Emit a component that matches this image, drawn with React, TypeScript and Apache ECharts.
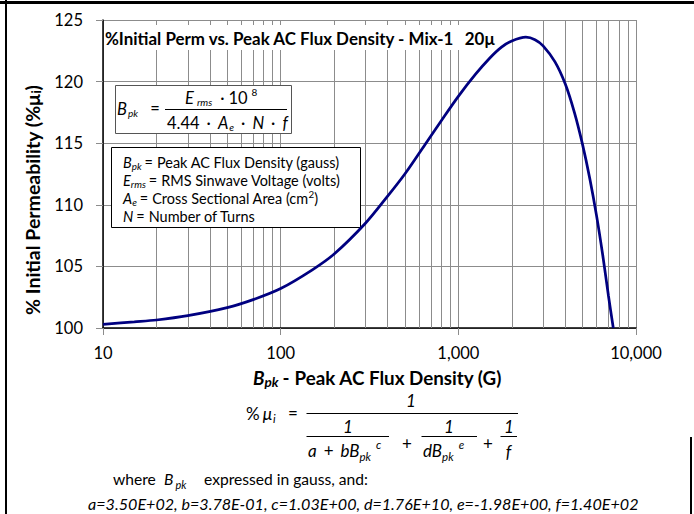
import React, { useEffect, useRef } from 'react';
import * as echarts from 'echarts';

// ---- data ----
const FLUX_G = [10, 15, 20, 30, 50, 70, 100, 150, 200, 300, 400, 500, 650, 800, 1000, 1250, 1500, 1750, 2000, 2400, 2700, 3000, 3500, 4000, 4500, 5000, 5500, 6000, 6500, 7000, 7450];
const PERM_PCT = [100.3, 100.5, 100.65, 101.0, 101.65, 102.3, 103.2, 104.7, 106.0, 108.5, 110.7, 112.5, 114.9, 116.8, 118.8, 120.6, 121.9, 122.8, 123.3, 123.6, 123.4, 122.9, 121.6, 119.8, 117.5, 114.9, 112.1, 109.1, 105.9, 102.6, 100.0];
const X_MIN = 10;
const X_MAX = 10000;
const Y_MIN = 100;
const Y_MAX = 125;
const Y_STEP = 5;
const MINOR_X = [20, 30, 40, 50, 60, 70, 80, 90, 200, 300, 400, 500, 600, 700, 800, 900, 2000, 3000, 4000, 5000, 6000, 7000, 8000, 9000];
const TITLE_MAIN = '%Initial Perm vs. Peak AC Flux Density - Mix-1';
const TITLE_TAIL = '20μ';
const DEFS = [
  { sym: 'B', sub: 'pk', text: 'Peak AC Flux Density (gauss)' },
  { sym: 'E', sub: 'rms', text: 'RMS Sinwave Voltage (volts)' },
  { sym: 'A', sub: 'e', text: 'Cross Sectional Area (cm', sup: '2', tail: ')' },
  { sym: 'N', sub: '', text: 'Number of Turns' },
];
const COEFFS = 'a=3.50E+02, b=3.78E-01, c=1.03E+00, d=1.76E+10, e=-1.98E+00, f=1.40E+02';

const FAM = 'Lato, "Liberation Sans", sans-serif';
let mctx: CanvasRenderingContext2D | null = null;
function fontStr(size: number, weight = 'normal', style = 'normal') {
  return `${style} ${weight} ${size.toFixed(2)}px ${FAM}`;
}
function measure(text: string, font: string) {
  if (!mctx) mctx = document.createElement('canvas').getContext('2d');
  mctx!.font = font;
  return mctx!.measureText(text).width;
}
function fit(text: string, target: number, weight = 'normal', style = 'normal') {
  const base = 20;
  return (base * target) / measure(text, fontStr(base, weight, style));
}

type Piece = { t: string; size: number; weight?: string; style?: string; dy?: number; dx?: number };
function run(pieces: Piece[], x: number, y: number, align: 'left' | 'center' | 'right' = 'left', z = 6) {
  const widths = pieces.map((p) => measure(p.t, fontStr(p.size, p.weight, p.style)));
  const total = widths.reduce((a, b) => a + b, 0) + pieces.reduce((a, p) => a + (p.dx || 0), 0);
  let cx = align === 'left' ? x : align === 'center' ? x - total / 2 : x - total;
  return pieces.map((p, i) => {
    cx += p.dx || 0;
    const el = {
      type: 'text',
      x: cx,
      y: y + (p.dy || 0),
      z,
      style: {
        text: p.t,
        font: fontStr(p.size, p.weight, p.style),
        fill: '#000',
        align: 'left',
        verticalAlign: 'middle',
        textAlign: 'left',
        textVerticalAlign: 'middle',
      },
    };
    cx += widths[i];
    return el;
  });
}
function hline(x1: number, x2: number, y: number, w = 1, color = '#000', z = 6) {
  return { type: 'line', z, shape: { x1, y1: y, x2, y2: y }, style: { stroke: color, lineWidth: w } };
}

function buildGraphic() {
  const g: any[] = [];
  // outer frame
  g.push(hline(0, 694, 2.5, 3, '#000', 20));
  g.push({ type: 'line', z: 20, shape: { x1: 6, y1: 0, x2: 6, y2: 514 }, style: { stroke: '#000', lineWidth: 2 } });
  g.push({ type: 'line', z: 20, shape: { x1: 691, y1: 437, x2: 691, y2: 514 }, style: { stroke: '#000', lineWidth: 2 } });

  // title with white background
  g.push({ type: 'rect', z: 5, shape: { x: 104, y: 25, width: 392, height: 25 }, style: { fill: '#fff' } });
  const ts = fit(TITLE_MAIN, 350, 'bold');
  g.push(...run([
    { t: TITLE_MAIN, size: ts, weight: 'bold' },
    { t: TITLE_TAIL, size: ts, weight: 'bold', dx: 10 },
  ], 105, 38));

  // Bpk formula box
  g.push({ type: 'rect', z: 5, shape: { x: 115.5, y: 85.5, width: 176, height: 48 }, style: { fill: '#fff', stroke: '#555', lineWidth: 1 } });
  const F = 16.5;
  const s = 10;
  g.push(...run([
    { t: 'B', size: F, style: 'italic' },
    { t: 'pk', size: s, style: 'italic', dy: 4, dx: 1 },
  ], 117, 109));
  g.push(...run([{ t: '=', size: F }], 155, 108, 'center'));
  g.push(...run([
    { t: 'E', size: F, style: 'italic' },
    { t: 'rms', size: s, style: 'italic', dy: 4, dx: 3 },
    { t: '·', size: F, dx: 8 },
    { t: '10', size: F, dx: 4 },
    { t: '8', size: s, dy: -6, dx: 4 },
  ], 185, 98));
  g.push(hline(165, 287, 109.5, 1, '#000', 6));
  g.push(...run([
    { t: '4.44', size: F },
    { t: '·', size: F, dx: 7 },
    { t: 'A', size: F, style: 'italic', dx: 7 },
    { t: 'e', size: s, style: 'italic', dy: 4, dx: 1 },
    { t: '·', size: F, dx: 7 },
    { t: 'N', size: F, style: 'italic', dx: 7 },
    { t: '·', size: F, dx: 7 },
    { t: 'f', size: F, style: 'italic', dx: 7 },
  ], 167, 123));

  // definitions box
  g.push({ type: 'rect', z: 5, shape: { x: 111.5, y: 147.5, width: 249, height: 80 }, style: { fill: '#fff', stroke: '#000', lineWidth: 1 } });
  const ds = fit(DEFS[0].text, 183);
  const dsub = ds * 0.68;
  DEFS.forEach((d, i) => {
    const y = 162 + i * 18;
    const pieces: Piece[] = [{ t: d.sym, size: ds, style: 'italic' }];
    if (d.sub) pieces.push({ t: d.sub, size: dsub, style: 'italic', dy: 3.5 });
    pieces.push({ t: '=', size: ds, dx: 3 });
    pieces.push({ t: d.text, size: ds, dx: 4 });
    if (d.sup) pieces.push({ t: d.sup, size: dsub, dy: -4 });
    if (d.tail) pieces.push({ t: d.tail, size: ds });
    g.push(...run(pieces, 123, y));
  });

  // x axis name
  const xs = fit('Peak AC Flux Density (G)', 208, 'bold');
  g.push(...run([
    { t: 'B', size: xs, weight: 'bold', style: 'italic' },
    { t: 'pk', size: xs * 0.72, weight: 'bold', style: 'italic', dy: 5 },
    { t: '-', size: xs, weight: 'bold', dx: 4 },
    { t: 'Peak AC Flux Density (G)', size: xs, weight: 'bold', dx: 5 },
  ], 253, 377));

  // y axis name (rotated)
  const yMain = '% Initial Permeability (%μ';
  const ys0 = 17;
  const wTot = measure(yMain + ')', fontStr(ys0, 'bold')) + measure('i', fontStr(ys0 * 0.65, 'bold'));
  const ys = (ys0 * 230) / wTot;
  g.push({
    type: 'group',
    x: 32,
    y: 200,
    rotation: Math.PI / 2,
    z: 6,
    children: run([
      { t: yMain, size: ys, weight: 'bold' },
      { t: 'i', size: ys * 0.65, weight: 'bold', dy: 4 },
      { t: ')', size: ys, weight: 'bold' },
    ], 0, 0, 'center'),
  });

  // bottom formula
  const E = 17;
  const e = 11.5;
  g.push(...run([
    { t: '%', size: E },
    { t: 'μ', size: E, style: 'italic', dx: 3 },
    { t: 'i', size: e, style: 'italic', dy: 5, dx: 1 },
  ], 246, 413));
  g.push(...run([{ t: '=', size: E }], 293, 412, 'center'));
  g.push(hline(306.5, 518, 413.5, 1));
  g.push(...run([{ t: '1', size: E, style: 'italic' }], 411, 400, 'center'));
  // term 1
  g.push(...run([{ t: '1', size: E, style: 'italic' }], 348, 426, 'center'));
  g.push(hline(306.5, 389, 436.5, 1));
  g.push(...run([
    { t: 'a', size: E, style: 'italic' },
    { t: '+', size: E, dx: 7 },
    { t: 'bB', size: E, style: 'italic', dx: 7 },
    { t: 'pk', size: e, style: 'italic', dy: 6 },
    { t: 'c', size: e, style: 'italic', dy: -6, dx: 5 },
  ], 308, 450));
  g.push(...run([{ t: '+', size: E }], 407, 443, 'center'));
  // term 2
  g.push(...run([{ t: '1', size: E, style: 'italic' }], 449, 426, 'center'));
  g.push(hline(421.5, 477, 436.5, 1));
  g.push(...run([
    { t: 'dB', size: E, style: 'italic' },
    { t: 'pk', size: e, style: 'italic', dy: 6 },
    { t: 'e', size: e, style: 'italic', dy: -6, dx: 5 },
  ], 423, 450));
  g.push(...run([{ t: '+', size: E }], 488, 443, 'center'));
  // term 3
  g.push(...run([{ t: '1', size: E, style: 'italic' }], 509, 426, 'center'));
  g.push(hline(500.5, 517, 436.5, 1));
  g.push(...run([{ t: 'f', size: E, style: 'italic' }], 508.5, 451, 'center'));

  // where line
  const ws = fit('expressed in gauss, and:', 164);
  g.push(...run([{ t: 'where', size: ws }], 113, 479));
  g.push(...run([
    { t: 'B', size: ws, style: 'italic' },
    { t: 'pk', size: ws * 0.7, style: 'italic', dy: 5, dx: 2 },
  ], 164, 479));
  g.push(...run([{ t: 'expressed in gauss, and:', size: ws }], 204, 479));

  // coefficients
  const cs = fit(COEFFS, 551, 'normal', 'italic');
  g.push(...run([{ t: COEFFS, size: cs, style: 'italic' }], 88, 503));
  return g;
}

export default function App() {
  const ref = useRef<HTMLDivElement>(null);
  useEffect(() => {
    if (!ref.current) return;
    const chart = echarts.init(ref.current, undefined, { renderer: 'svg' });
    const gridColor = '#8c8c8c';
    chart.setOption({
      animation: false,
      backgroundColor: '#fff',
      grid: { left: 103, top: 20, width: 533, height: 308 },
      xAxis: {
        type: 'log',
        logBase: 10,
        min: X_MIN,
        max: X_MAX,
        axisLine: { show: true, onZero: false, lineStyle: { color: '#000', width: 1.5 } },
        axisTick: { show: true, length: 7, lineStyle: { color: gridColor } },
        axisLabel: {
          fontSize: 16.5,
          fontFamily: FAM,
          color: '#000',
          margin: 16,
          formatter: (v: number) => Math.round(v).toLocaleString('en-US'),
        },
        splitLine: { show: true, lineStyle: { color: gridColor, width: 1 } },
      },
      yAxis: {
        type: 'value',
        min: Y_MIN,
        max: Y_MAX,
        interval: Y_STEP,
        axisLine: { show: true, lineStyle: { color: '#000', width: 1.5 } },
        axisTick: { show: true, length: 7, lineStyle: { color: gridColor } },
        axisLabel: { fontSize: 16.5, fontFamily: FAM, color: '#000', margin: 20 },
        splitLine: { show: true, lineStyle: { color: gridColor, width: 1 } },
      },
      series: [
        {
          type: 'line',
          z: 1,
          silent: true,
          data: [[X_MIN, Y_MIN]],
          symbol: 'none',
          showSymbol: false,
          lineStyle: { opacity: 0 },
          markLine: {
            z: 1,
            silent: true,
            symbol: 'none',
            label: { show: false },
            emphasis: { disabled: true },
            lineStyle: { color: gridColor, width: 1, type: 'solid' },
            data: MINOR_X.map((v) => ({ xAxis: v })),
          },
        },
        {
          type: 'line',
          z: 10,
          data: FLUX_G.map((b, i) => [b, PERM_PCT[i]]),
          symbol: 'none',
          showSymbol: false,
          smooth: 0.3,
          lineStyle: { color: '#000080', width: 2.75 },
        },
      ],
      graphic: buildGraphic(),
    });
    return () => chart.dispose();
  }, []);
  return <div ref={ref} style={{ position: 'fixed', left: 0, top: 0, width: 694, height: 514, background: '#fff' }} />;
}
